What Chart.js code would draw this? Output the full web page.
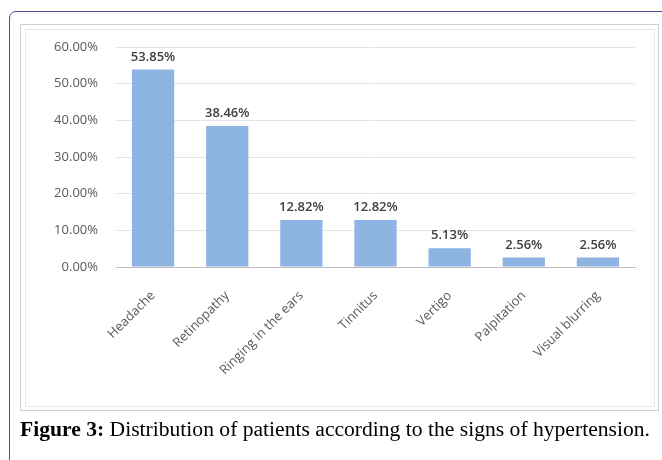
<!DOCTYPE html>
<html>
<head>
<meta charset="utf-8">
<script src="https://cdn.jsdelivr.net/npm/chart.js@4"></script>
<style>
  body { margin: 0; background: #fff; width: 662px; height: 460px; overflow: hidden; position: relative; }
  #outer { position: absolute; left: 9px; top: 11px; width: 700px; height: 500px;
           border: 1px solid #55499a; border-top-left-radius: 7px; }
  #frame1 { position: absolute; left: 20px; top: 24px; width: 637px; height: 385px; border: 1px solid #cfcfcf; }
  #frame2 { position: absolute; left: 25px; top: 29px; width: 628px; height: 376px; border: 1px solid #e8e8e8; }
  #caption { position: absolute; left: 20px; top: 417px; font-family: "Liberation Serif", serif;
             font-size: 21.6px; color: #000; white-space: nowrap; }
  canvas { position: absolute; left: 0; top: 0; }
</style>
</head>
<body>
<div id="outer"></div>
<div id="frame1"></div>
<div id="frame2"></div>
<canvas id="chart" width="662" height="460"></canvas>
<div id="caption"><b>Figure 3:</b> Distribution of patients according to the signs of hypertension.</div>
<script>
// Data
const signs = ["Headache", "Retinopathy", "Ringing in the ears", "Tinnitus", "Vertigo", "Palpitation", "Visual blurring"];
const percents = [53.85, 38.46, 12.82, 12.82, 5.13, 2.56, 2.56];
const yTicks = [0, 10, 20, 30, 40, 50, 60];

const fontFamily = "'Open Sans', sans-serif";

// draws the value above each bar
const valueLabels = {
  id: "valueLabels",
  afterDatasetsDraw(chart) {
    const ctx = chart.ctx;
    const meta = chart.getDatasetMeta(0);
    ctx.save();
    ctx.font = "600 13px " + fontFamily;
    ctx.fillStyle = "#404040";
    ctx.textAlign = "center";
    ctx.textBaseline = "bottom";
    meta.data.forEach((bar, i) => {
      ctx.fillText(percents[i].toFixed(2) + "%", bar.x, bar.y - 6);
    });
    ctx.restore();
  }
};

const ctx = document.getElementById("chart").getContext("2d");
new Chart(ctx, {
  type: "bar",
  data: {
    labels: signs,
    datasets: [{
      data: percents,
      backgroundColor: "#8db4e2",
      categoryPercentage: 1,
      barPercentage: 0.57
    }]
  },
  options: {
    responsive: false,
    animation: false,
    layout: { padding: { left: 0, right: 27, top: 47, bottom: 0 } },
    plugins: { legend: { display: false }, tooltip: { enabled: false } },
    scales: {
      x: {
        grid: { display: false },
        border: { color: "#bfbfbf", width: 1 },
        ticks: {
          color: "#595959",
          font: { family: fontFamily, size: 13 },
          minRotation: 45, maxRotation: 45,
          padding: 13
        },
        afterFit: (s) => { s.height = 193; }
      },
      y: {
        min: 0, max: 60,
        afterBuildTicks: (s) => { s.ticks = yTicks.map(v => ({ value: v })); },
        grid: { color: "#e4e4e4", drawTicks: false },
        border: { display: false },
        ticks: {
          color: "#595959",
          font: { family: fontFamily, size: 13 },
          padding: 18,
          callback: (v) => v.toFixed(2) + "%"
        },
        afterFit: (s) => { s.width = 116; }
      }
    }
  },
  plugins: [valueLabels]
});
</script>
</body>
</html>
